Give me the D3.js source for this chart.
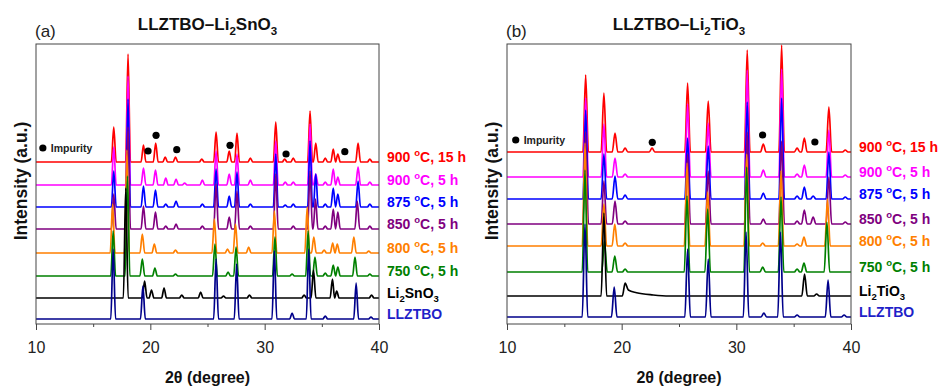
<!DOCTYPE html>
<html>
<head>
<meta charset="utf-8">
<script src="https://cdn.jsdelivr.net/npm/d3@7"></script>
<style>
  body { margin: 0; background: #fff; }
  svg { display: block; font-family: "Liberation Sans", Arial, sans-serif; }
</style>
</head>
<body>
<script>
// ---- data ----
// peaks: [2theta, intensity] (optional 3rd/4th = left/right half base width;
// a left width of 0 joins the point straight onto the previous one)
const majorTicks = [10, 20, 30, 40];
const minorTicks = [15, 25, 35];

const labelsA = ["900 ºC, 15 h", "900 ºC, 5 h", "875 ºC, 5 h", "850 ºC, 5 h", "800 ºC, 5 h", "750 ºC, 5 h", "Li_2SnO_3", "LLZTBO"];
const labelsB = ["900 ºC, 15 h", "900 ºC, 5 h", "875 ºC, 5 h", "850 ºC, 5 h", "800 ºC, 5 h", "750 ºC, 5 h", "Li_2TiO_3", "LLZTBO"];

const offsetsA = [162, 139, 117, 95, 71, 48, 26, 5];
const offsetsB = [172, 147, 125, 100, 78, 52, 28, 7];

const peaksA = [
  [[16.8,35],[18.05,108],[19.4,17],[20.47,19],[21.3,5],[22.2,5],[24.5,3],[25.75,30],[26.9,11],[27.58,29],[28.75,4],[30.97,40],[31.75,3],[32.5,4],[33.97,51],[34.47,19],[35.3,4],[36.0,13],[36.4,8],[38.17,19],[39.2,3]],
  [[16.8,38],[18.05,109],[19.4,17],[20.45,15],[21.35,7],[22.25,6],[23.0,2],[24.55,5],[25.75,34],[26.9,11],[27.58,31],[28.75,5],[30.97,44],[31.8,3],[32.5,3],[33.97,61],[34.47,11],[35.3,3],[36.0,16],[36.4,8],[38.17,18],[39.2,3]],
  [[16.8,36],[18.05,108],[19.4,21],[20.45,17],[21.35,3],[22.25,6],[24.55,3],[25.75,38],[26.9,11],[27.58,35],[28.75,3],[30.97,53],[31.8,2],[32.5,3],[33.97,66],[34.47,33],[35.3,3],[36.0,19],[36.4,13],[38.17,26],[39.2,3]],
  [[16.8,35],[18.05,102],[19.4,23],[20.45,17],[21.35,3],[22.25,5],[24.55,3],[25.75,45],[26.9,12],[27.58,38],[28.75,3],[30.97,55],[32.5,3],[33.97,58],[34.45,30],[35.3,3],[36.0,20],[36.4,17],[38.1,28],[39.2,3]],
  [[16.7,49],[17.95,103],[19.3,19],[20.35,9],[22.2,3],[25.6,34],[26.75,4],[27.45,29],[28.6,6],[30.85,42],[33.72,46],[34.3,16],[35.2,3],[35.95,10],[36.35,9],[37.8,16],[39.1,2]],
  [[16.75,45],[18.0,100],[19.3,17],[20.4,8],[22.2,2],[25.65,32],[26.8,4],[27.5,29],[30.9,39],[32.4,2],[33.8,45],[34.4,19],[35.3,3],[36.0,11],[36.4,9],[37.9,19],[39.2,2]],
  [[17.85,110],[19.5,17],[20.1,8],[21.2,10],[22.75,3],[24.4,6],[26.4,2],[28.67,3],[33.45,3],[34.27,28],[35.93,19],[36.3,7],[39.35,3]],
  [[16.75,70],[19.35,33],[25.75,60],[27.55,55],[30.85,68],[32.4,6],[33.85,70],[35.3,3],[38.0,36],[39.3,2]]
];

const peaksB = [
  [[16.86,77],[18.45,59],[19.42,19],[20.3,4],[22.65,4],[25.75,69],[27.55,51],[30.95,102],[32.35,8],[33.95,107],[35.3,4],[35.93,14],[38.07,45],[39.5,2]],
  [[16.86,79],[18.45,53],[19.42,19],[20.3,3],[25.75,73],[27.55,54],[30.95,107],[32.35,7],[33.95,108],[35.3,3],[35.93,12],[38.07,47],[39.5,2]],
  [[16.86,89],[18.45,45],[19.42,23],[20.3,4],[25.75,61],[27.55,53],[30.95,97],[32.35,6],[33.95,101],[35.3,3],[35.93,12],[36.7,3],[38.07,47],[39.5,2]],
  [[16.86,92],[18.45,43],[19.42,23],[20.3,3],[25.75,70],[27.55,53],[30.95,92],[32.35,5],[33.95,83],[35.3,3],[35.93,14],[36.7,7],[38.07,47],[39.5,2]],
  [[16.8,103],[18.45,42],[19.4,22],[20.3,3],[25.7,83],[27.5,54],[30.9,92],[32.3,3],[33.9,75],[35.3,2],[35.9,9],[37.95,47]],
  [[16.8,102],[18.5,31],[19.4,16],[20.3,3],[25.7,76],[27.5,63],[30.9,105],[32.3,5],[33.9,75],[35.3,3],[35.9,9],[37.9,50]],
  [[18.45,83],[20.3,13],[20.58,6,0],[21.3,3.3,0],[22.75,1,0,1.4],[35.95,22],[37.0,2]],
  [[16.8,93],[19.35,30],[25.75,68],[27.55,58],[30.85,85],[32.4,4],[33.85,85],[35.3,2],[38.0,37],[39.4,2]]
];

// impurity markers: [2theta, intensity]
const impurityA = [[19.8,173],[20.5,188.7],[22.31,174.3],[26.97,178.7],[31.87,170],[37.01,172.3]];
const impurityB = [[22.67,181.7],[32.29,189],[36.85,182]];
const legendA = [10.6, 176];
const legendB = [10.76, 184];

// ---- drawing ----
const lineColors  = ["#ff0000", "#ff00ff", "#0000ff", "#800080", "#ff7f00", "#008000", "#000000", "#00008b"];
const labelColors = ["#ff0000", "#ff00ff", "#0000ff", "#800080", "#ff7f00", "#008000", "#000000", "#1f1fc8"];

const svg = d3.select("body").append("svg")
  .attr("width", 939).attr("height", 388);

// text with "_x" subscripts and "º" as a raised o
function rich(sel, str, size) {
  const parts = [];
  let buf = "";
  for (let i = 0; i < str.length; i++) {
    const c = str[i];
    if (c === "_") { if (buf) parts.push({ t: buf }); buf = ""; parts.push({ t: str[++i], sub: true }); }
    else if (c === "º") { if (buf) parts.push({ t: buf }); buf = ""; parts.push({ t: "o", sup: true }); }
    else buf += c;
  }
  if (buf) parts.push({ t: buf });
  let shift = 0;
  parts.forEach(p => {
    const want = p.sub ? size * 0.3 : p.sup ? -size * 0.4 : 0;
    sel.append("tspan")
      .attr("dy", want - shift)
      .attr("font-size", (p.sub || p.sup) ? size * 0.68 : size)
      .text(p.t);
    shift = want;
  });
}

// peak list -> points along the trace (baseline between peaks)
function profile(peaks, w) {
  const s = peaks.slice().sort((a, b) => a[0] - b[0]);
  const pts = [[10, 0]];
  s.forEach((pk, i) => {
    const wl = pk[2] === undefined ? w : pk[2];
    const wr = pk[3] === undefined ? w : pk[3];
    const next = s[i + 1];
    if (wl > 0) {
      let left = pk[0] - wl;
      if (i > 0) left = Math.max(left, (s[i - 1][0] + pk[0]) / 2);
      if (left > pts[pts.length - 1][0]) pts.push([left, 0]);
    }
    pts.push([pk[0], pk[1]]);
    if (next && next[2] === 0) return;
    let right = pk[0] + wr;
    if (next) right = Math.min(right, (next[0] + pk[0]) / 2);
    pts.push([right, 0]);
  });
  pts.push([40, 0]);
  return pts;
}

const panels = [
  { x0: 36, x1: 379, tag: "(a)", title: "LLZTBO–Li_2SnO_3", labels: labelsA, offsets: offsetsA, peaks: peaksA, imp: impurityA, leg: legendA, w: 0.21 },
  { x0: 507, x1: 851, tag: "(b)", title: "LLZTBO–Li_2TiO_3", labels: labelsB, offsets: offsetsB, peaks: peaksB, imp: impurityB, leg: legendB, w: 0.24 }
];

const plotTop = 44, plotBottom = 324;

panels.forEach((p, pi) => {
  const x = d3.scaleLinear().domain([10, 40]).range([p.x0, p.x1]);
  const y = d3.scaleLinear().domain([0, 280]).range([plotBottom, plotTop]);
  const g = svg.append("g");

  const clipId = "clip" + pi;
  svg.append("clipPath").attr("id", clipId)
    .append("rect").attr("x", p.x0).attr("y", plotTop).attr("width", p.x1 - p.x0).attr("height", plotBottom - plotTop);

  const traces = g.append("g").attr("clip-path", `url(#${clipId})`);
  p.peaks.forEach((pk, i) => {
    const off = p.offsets[i];
    const line = d3.line()
      .x(d => x(d[0]))
      .y(d => y(d[1] + off))
      .curve(d3.curveMonotoneX);
    traces.append("path")
      .datum(profile(pk, p.w))
      .attr("fill", "none")
      .attr("stroke", lineColors[i])
      .attr("stroke-width", 1.7)
      .attr("stroke-linejoin", "round")
      .attr("d", line);
  });

  // frame
  g.append("rect")
    .attr("x", p.x0).attr("y", plotTop)
    .attr("width", p.x1 - p.x0).attr("height", plotBottom - plotTop)
    .attr("fill", "none").attr("stroke", "#444").attr("stroke-width", 1);

  // axes
  const ax = g.append("g").attr("transform", `translate(0,${plotBottom})`)
    .call(d3.axisBottom(x).tickValues(majorTicks).tickSize(6).tickSizeOuter(0).tickPadding(12));
  ax.select(".domain").remove();
  ax.selectAll("line").attr("stroke", "#444");
  ax.selectAll("text").attr("font-size", 16).attr("fill", "#222")
    .attr("font-family", "Liberation Sans, Arial, sans-serif");
  const axm = g.append("g").attr("transform", `translate(0,${plotBottom})`)
    .call(d3.axisBottom(x).tickValues(minorTicks).tickSize(3).tickSizeOuter(0).tickFormat(""));
  axm.select(".domain").remove();
  axm.selectAll("line").attr("stroke", "#444");

  // impurity dots and legend
  g.selectAll(".imp").data(p.imp).join("circle")
    .attr("cx", d => x(d[0])).attr("cy", d => y(d[1])).attr("r", 3.6).attr("fill", "#000");
  g.append("circle").attr("cx", x(p.leg[0])).attr("cy", y(p.leg[1])).attr("r", 3.6).attr("fill", "#000");
  g.append("text").attr("x", x(p.leg[0]) + 8).attr("y", y(p.leg[1])).attr("dy", "0.35em")
    .attr("font-size", 10.5).attr("font-weight", "bold").attr("fill", "#222").text("Impurity");

  // series labels
  p.labels.forEach((lab, i) => {
    const t = g.append("text")
      .attr("x", p.x1 + 8).attr("y", y(p.offsets[i])).attr("dy", "0.35em")
      .attr("font-weight", "bold").attr("fill", labelColors[i]);
    rich(t, lab, 14);
  });

  // title, tag, axis labels
  const tt = g.append("text").attr("x", (p.x0 + p.x1) / 2).attr("y", 29.5)
    .attr("text-anchor", "middle").attr("font-weight", "bold").attr("fill", "#111");
  rich(tt, p.title, 17);
  g.append("text").attr("x", p.x0 - 1).attr("y", 36.5).attr("font-size", 17).attr("fill", "#222").text(p.tag);
  g.append("text").attr("x", (p.x0 + p.x1) / 2).attr("y", 383)
    .attr("text-anchor", "middle").attr("font-size", 16).attr("font-weight", "bold").attr("fill", "#111")
    .text("2θ (degree)");
  g.append("text")
    .attr("transform", `translate(${p.x0 - 9},${(plotTop + plotBottom) / 2 - 3}) rotate(-90)`)
    .attr("text-anchor", "middle").attr("font-size", 17.5).attr("font-weight", "bold").attr("fill", "#111")
    .text("Intensity (a.u.)");
});
</script>
</body>
</html>
